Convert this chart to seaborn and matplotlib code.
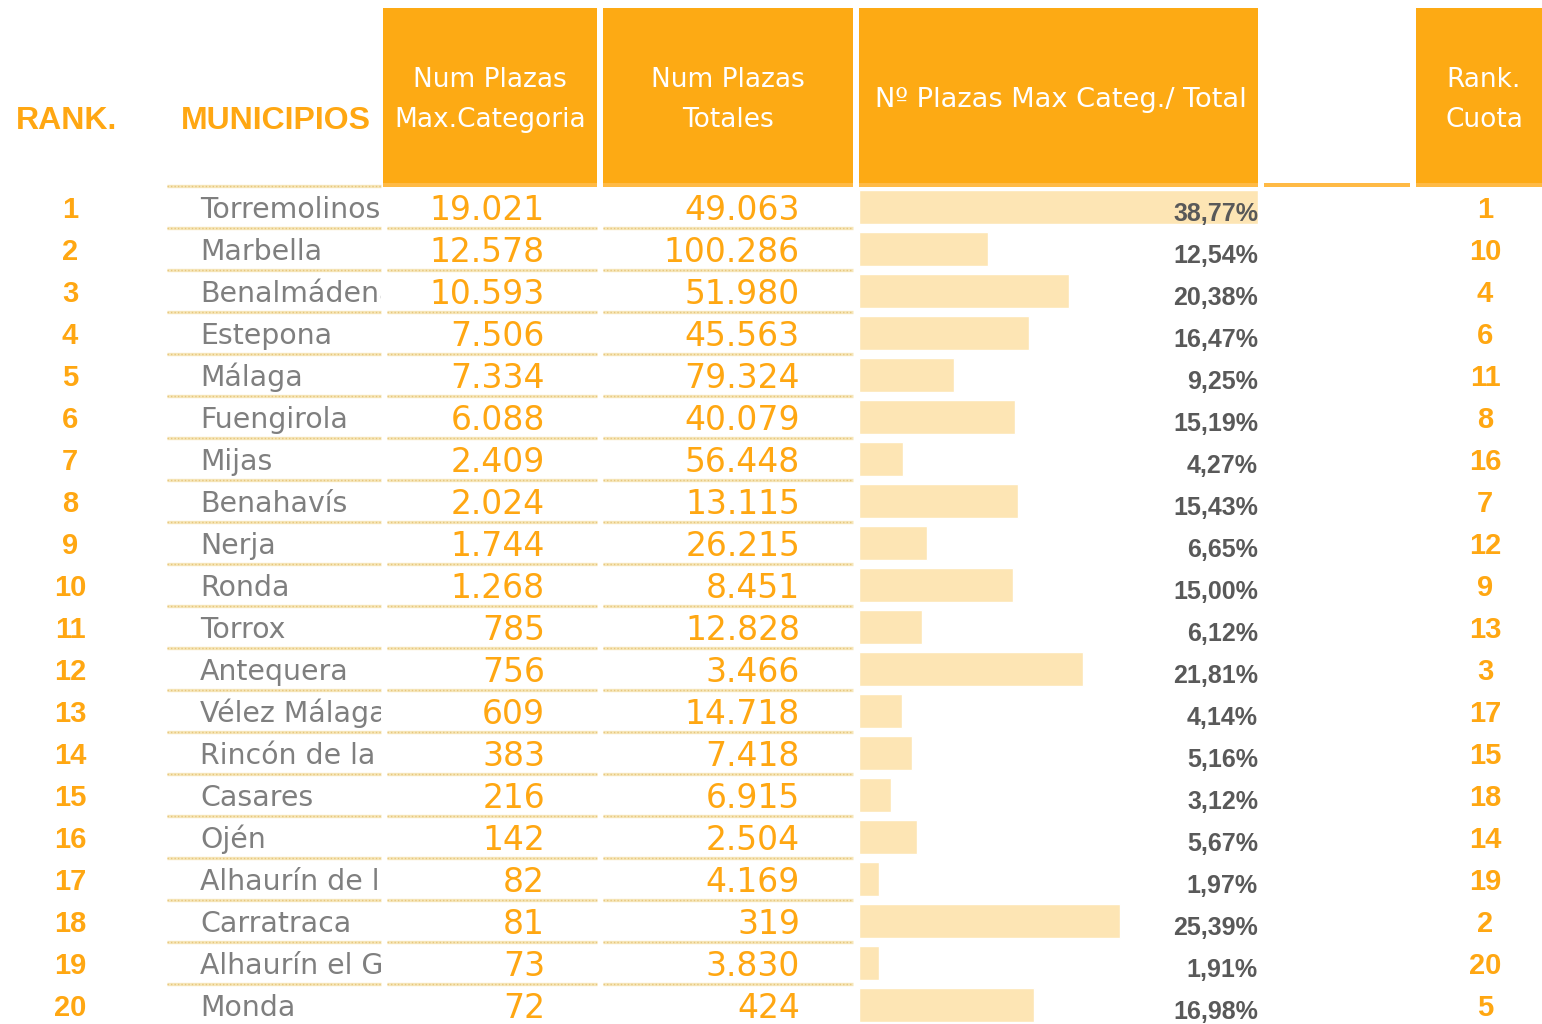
import matplotlib
matplotlib.use("Agg")
import matplotlib.pyplot as plt
import seaborn as sns
import pandas as pd
from matplotlib.patches import Rectangle

# ---------------- data ----------------
ranks = list(range(1, 21))
municipios = ["Torremolinos", "Marbella", "Benalmádena", "Estepona", "Málaga",
              "Fuengirola", "Mijas", "Benahavís", "Nerja", "Ronda", "Torrox",
              "Antequera", "Vélez Málaga", "Rincón de la Victoria", "Casares",
              "Ojén", "Alhaurín de la Torre", "Carratraca", "Alhaurín el Grande",
              "Monda"]
plazas_max = [19021, 12578, 10593, 7506, 7334, 6088, 2409, 2024, 1744, 1268,
              785, 756, 609, 383, 216, 142, 82, 81, 73, 72]
plazas_tot = [49063, 100286, 51980, 45563, 79324, 40079, 56448, 13115, 26215,
              8451, 12828, 3466, 14718, 7418, 6915, 2504, 4169, 319, 3830, 424]
cuota_pct = [38.77, 12.54, 20.38, 16.47, 9.25, 15.19, 4.27, 15.43, 6.65, 15.00,
             6.12, 21.81, 4.14, 5.16, 3.12, 5.67, 1.97, 25.39, 1.91, 16.98]
rank_cuota = [1, 10, 4, 6, 11, 8, 16, 7, 12, 9, 13, 3, 17, 15, 18, 14, 19, 2, 20, 5]

header_rank = "RANK."
header_mun = "MUNICIPIOS"
header_max = ["Num Plazas", "Max.Categoria"]
header_tot = ["Num Plazas", "Totales"]
header_pct = "Nº Plazas Max Categ./ Total"
header_rc = ["Rank.", "Cuota"]

df = pd.DataFrame({"municipio": municipios, "cuota": cuota_pct})

# ---------------- style ----------------
sns.set_style("white")
plt.rcParams["font.family"] = ["DejaVu Sans"]

ORANGE = "#FDAA14"
STRIP = "#FFBA45"
TXT_OR = "#FFA712"
BAR = "#FDE5B4"
GRAY = "#7F7F7F"
DARK = "#595959"
SEP_LIGHT = "#F6E6B9"
SEP_DOT = "#E6C67E"
SANS = ["DejaVu Sans"]

W, H = 1542, 1024
ROW0, ROWH, N = 186, 42, len(municipios)

fig = plt.figure(figsize=(W / 100, H / 100), dpi=100)
fig.patch.set_facecolor("white")

ax = fig.add_axes([0, 0, 1, 1])
ax.set_xlim(0, W)
ax.set_ylim(H, 0)
ax.axis("off")


def yc(i):
    return ROW0 + ROWH * (i + 0.5)


# header boxes
boxes = [(383, 597), (603, 853), (859, 1258), (1416, 1542)]
for x0, x1 in boxes:
    ax.add_patch(Rectangle((x0, 8), x1 - x0, 176, color=ORANGE, lw=0, zorder=1))
    ax.add_patch(Rectangle((x0, 183), x1 - x0, 4, color=STRIP, lw=0, zorder=2))
ax.add_patch(Rectangle((1264, 183), 146, 4, color=STRIP, lw=0, zorder=2))

hfont = dict(color="white", fontsize=19, ha="center", va="center", family=SANS)
ax.text(490, 80, header_max[0], **hfont)
ax.text(490, 120, header_max[1], **hfont)
ax.text(728, 80, header_tot[0], **hfont)
ax.text(728, 120, header_tot[1], **hfont)
ax.text(1061, 100, header_pct, **{**hfont, "fontsize": 19.6})
ax.text(1484, 80, header_rc[0], **hfont)
ax.text(1484, 120, header_rc[1], **hfont)

bold = dict(family=["Liberation Sans", "DejaVu Sans"], fontweight="bold")
ax.text(67, 121, header_rank, color=TXT_OR, fontsize=23, ha="center", va="center", **bold)
ax.text(276, 121, header_mun, color=TXT_OR, fontsize=23, ha="center", va="center", **bold)

# separators
for k in range(N + 1):
    y = ROW0 + ROWH * k
    segs = [(167, 381)]
    if k >= 1:
        segs += [(387, 597), (603, 853)]
    for x0, x1 in segs:
        ax.plot([x0, x1], [y, y], color=SEP_LIGHT, lw=2.4, solid_capstyle="butt", zorder=1)
        ax.plot([x0, x1], [y, y], color=SEP_DOT, lw=1.0, ls=(0, (1, 1.5)), zorder=1)

# rank columns and numbers
for i in range(N):
    y = yc(i)
    ax.text(70, y + 3, str(ranks[i]), color=TXT_OR, fontsize=21, ha="center", va="center", **bold)
    ax.text(1485, y + 3, str(rank_cuota[i]), color=TXT_OR, fontsize=21, ha="center", va="center", **bold)
    ax.text(545, y + 4, f"{plazas_max[i]:,}".replace(",", "."), color=TXT_OR,
            fontsize=23.8, ha="right", va="center", family=SANS)
    ax.text(800, y + 4, f"{plazas_tot[i]:,}".replace(",", "."), color=TXT_OR,
            fontsize=23.8, ha="right", va="center", family=SANS)

# names column (clipped)
axn = fig.add_axes([167 / W, (H - (ROW0 + ROWH * N)) / H, (381 - 167) / W, ROWH * N / H])
axn.set_xlim(167, 381)
axn.set_ylim(N - 0.5, -0.5)
axn.axis("off")
for i, name in enumerate(municipios):
    axn.text(200, i + 0.06, name, color=GRAY, fontsize=20.4, ha="left", va="center",
             clip_on=True, family=SANS)

# bars
axb = fig.add_axes([859 / W, (H - (ROW0 + ROWH * N)) / H, (1258 - 859) / W, ROWH * N / H])
sns.barplot(data=df, x="cuota", y="municipio", orient="h", color=BAR,
            saturation=1, width=34 / 42, ax=axb)
xmax = max(cuota_pct)
axb.set_xlim(0, xmax)
axb.set_ylim(N - 0.5, -0.5)
axb.axis("off")
for i, p in enumerate(cuota_pct):
    axb.text(xmax, i + 0.17, f"{p:.2f}%".replace(".", ","), color=DARK, fontsize=18,
             ha="right", va="center", clip_on=False, **bold)

fig.savefig("out.png", dpi=100)
